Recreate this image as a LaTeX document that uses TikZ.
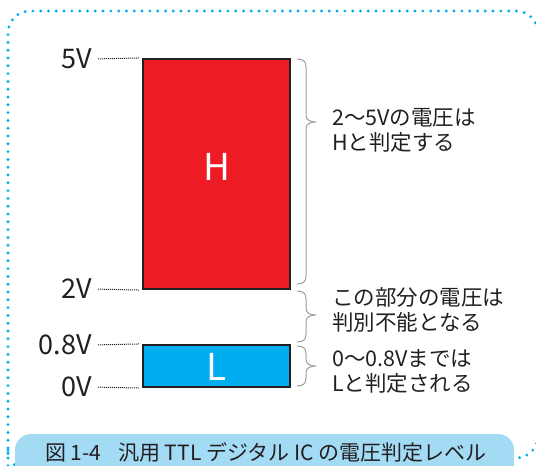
\documentclass[tikz,border=0pt]{standalone}
\usepackage{fontspec}
\setmainfont{Noto Sans CJK JP}
\definecolor{framecyan}{HTML}{00AEEF}
\definecolor{capfill}{HTML}{A3DBF5}
\definecolor{hred}{HTML}{ED1C24}
\definecolor{lblue}{HTML}{00AEEF}
\definecolor{ink}{HTML}{231F20}
\definecolor{bracegray}{HTML}{9C9C9C}
\newcommand\mybrace[3]{%
  \draw[bracepath] (297,#1) .. controls (303,#1) and (306,#1+2) .. (306,#1+8)
    -- (306,#2-7) .. controls (306,#2-2) and (310,#2) .. (316,#2)
    .. controls (310,#2) and (306,#2+2) .. (306,#2+7)
    -- (306,#3-8) .. controls (306,#3-2) and (303,#3) .. (297,#3);}
\begin{document}
\begin{tikzpicture}[x=1pt,y=-1pt,
  frame/.style={draw=framecyan, line width=3.2pt, line cap=round,
    dash pattern=on 0pt off 7.8pt, rounded corners=22pt},
  levelbox/.style={draw=ink, line width=2.2pt, minimum width=147pt, inner sep=0pt},
  boxtext/.style={anchor=base, inner sep=0pt, text=white, font=\fontsize{37}{37}\selectfont},
  lab/.style={anchor=east, inner sep=0pt, text=ink, font=\fontsize{27}{27}\selectfont},
  leader/.style={draw=ink, line width=1pt, dash pattern=on 1pt off 1pt, shorten <=6pt, shorten >=3pt},
  bracepath/.style={draw=bracegray, line width=1pt},
  note/.style={anchor=west, align=left, inner sep=0pt, text=ink, font=\fontsize{21.5}{25}\selectfont},
  captionbox/.style={fill=capfill, rounded corners=16pt},
]
\useasboundingbox (0,0) rectangle (536,466);
% dotted frame
\draw[frame] (8,470) -- (8,11) -- (538,11) -- (538,458) -- (8,458) -- cycle;
% level boxes
\node[levelbox, fill=hred, minimum height=230pt] (hi) at (216.5,174) {};
\node[levelbox, fill=lblue, minimum height=42pt] (lo) at (216.5,366) {};
\node[boxtext] (htext) at (216.5,180) {H};
\node[boxtext] (ltext) at (216.5,380) {L};
% labels
\node[lab] (l5) at (92,59) {5V};
\node[lab] (l2) at (92,289) {2V};
\node[lab] (l08) at (92,345) {0.8V};
\node[lab] (l0) at (92,387) {0V};
\draw[leader] (l5.east) -- (hi.north west);
\draw[leader] (l2.east) -- (hi.south west);
\draw[leader] (l08.east) -- (lo.north west);
\draw[leader] (l0.east) -- (lo.south west);
% braces
\mybrace{59}{122}{284}
\mybrace{291}{315}{342}
\mybrace{346}{366}{386}
% notes
\node[note] (n1) at (332,130.5) {2〜5Vの電圧は\\Hと判定する};
\node[note] (n2) at (332,309.5) {この部分の電圧は\\判別不能となる};
\node[note] (n3) at (332,371.5) {0〜0.8Vまでは\\Lと判定される};
% caption
\fill[captionbox] (15,434) rectangle (514,490);
\node[inner sep=0pt, text=ink, font=\fontsize{21}{21}\selectfont] (cap) at (266,452)
  {図 1-4\hspace{0.8em}汎用 TTL デジタル IC の電圧判定レベル};
\end{tikzpicture}
\end{document}
